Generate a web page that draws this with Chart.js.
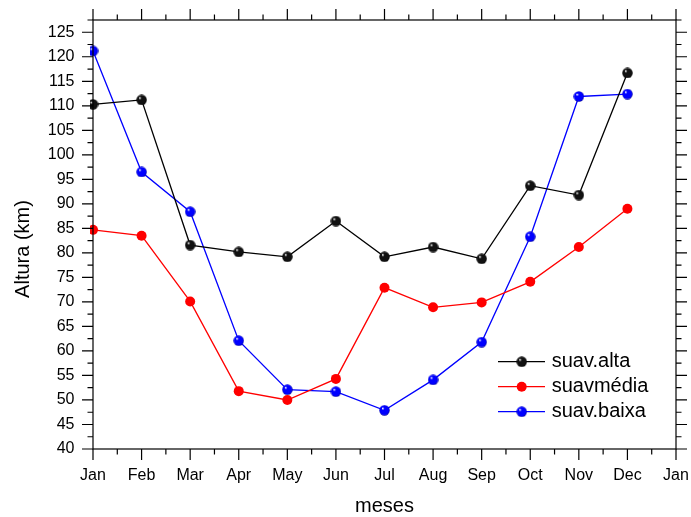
<!DOCTYPE html>
<html>
<head>
<meta charset="utf-8">
<script src="https://cdn.jsdelivr.net/npm/chart.js@4/dist/chart.umd.min.js"></script>
<style>
  html, body { margin: 0; padding: 0; background: #fff; }
  #wrap { width: 691px; height: 517px; }
</style>
</head>
<body>
<div id="wrap"><canvas id="c" width="691" height="517"></canvas></div>
<script>
// Monthly smoothed heights (km)
const months = ['Jan', 'Feb', 'Mar', 'Apr', 'May', 'Jun', 'Jul', 'Aug', 'Sep', 'Oct', 'Nov', 'Dec', 'Jan'];
const suavAlta  = [110.3, 111.2, 81.6, 80.2, 79.2, 86.5, 79.2, 81.2, 78.8, 93.7, 91.8, 116.7];
const suavMedia = [84.7, 83.5, 70.1, 51.8, 50.0, 54.3, 72.9, 68.9, 69.9, 74.1, 81.2, 89.0];
const suavBaixa = [121.2, 96.5, 88.4, 62.1, 52.1, 51.7, 47.9, 54.1, 61.8, 83.3, 111.9, 112.4];
const seriesNames = ['suav.alta', 'suavmédia', 'suav.baixa'];
const yTicks = [40, 45, 50, 55, 60, 65, 70, 75, 80, 85, 90, 95, 100, 105, 110, 115, 120, 125];
const yMin = 40, yMax = 127.5;
const xTitle = 'meses';
const yTitle = 'Altura (km)';

const FONT = '"Liberation Sans", Arial, Helvetica, sans-serif';

// Shaded sphere marker
function sphere(color, dark, size) {
  const c = document.createElement('canvas');
  c.width = size; c.height = size;
  const g = c.getContext('2d');
  const r = size / 2;
  const grad = g.createRadialGradient(r - r * 0.35, r - r * 0.4, r * 0.05, r, r, r);
  grad.addColorStop(0, '#ffffff');
  grad.addColorStop(0.25, color);
  grad.addColorStop(0.8, color);
  grad.addColorStop(1, dark);
  g.fillStyle = grad;
  g.beginPath();
  g.arc(r, r, r - 0.3, 0, Math.PI * 2);
  g.fill();
  return c;
}
const blackBall = sphere('#111111', '#000000', 11);
const blueBall = sphere('#0000ff', '#00008a', 11);

const series = [
  { label: seriesNames[0], data: suavAlta,  color: '#000000', marker: blackBall },
  { label: seriesNames[1], data: suavMedia, color: '#ff0000', marker: 'circle' },
  { label: seriesNames[2], data: suavBaixa, color: '#0000ff', marker: blueBall }
];

// Frame, outward ticks on all four sides, axis titles and legend
const framePlugin = {
  id: 'frame',
  afterDraw(chart) {
    const { ctx, chartArea: a, scales } = chart;
    const xs = scales.x, ys = scales.y;
    ctx.save();
    ctx.strokeStyle = '#000';
    ctx.lineWidth = 1.2;
    ctx.strokeRect(a.left, a.top, a.right - a.left, a.bottom - a.top);

    const MAJ = 11, MIN = 5.5;
    ctx.beginPath();
    // x ticks (months and half months)
    for (let i = 0; i < months.length; i++) {
      const px = xs.getPixelForValue(i);
      ctx.moveTo(px, a.bottom); ctx.lineTo(px, a.bottom + MAJ);
      ctx.moveTo(px, a.top); ctx.lineTo(px, a.top - MAJ);
      if (i < months.length - 1) {
        const hx = (px + xs.getPixelForValue(i + 1)) / 2;
        ctx.moveTo(hx, a.bottom); ctx.lineTo(hx, a.bottom + MIN);
        ctx.moveTo(hx, a.top); ctx.lineTo(hx, a.top - MIN);
      }
    }
    // y ticks (every 5, minor every 2.5)
    for (const v of yTicks) {
      const py = ys.getPixelForValue(v);
      ctx.moveTo(a.left, py); ctx.lineTo(a.left - MAJ, py);
      ctx.moveTo(a.right, py); ctx.lineTo(a.right + MAJ, py);
      const hy = ys.getPixelForValue(v + 2.5);
      ctx.moveTo(a.left, hy); ctx.lineTo(a.left - MIN, hy);
      ctx.moveTo(a.right, hy); ctx.lineTo(a.right + MIN, hy);
    }
    ctx.stroke();

    // axis titles
    ctx.fillStyle = '#000';
    ctx.font = '20px ' + FONT;
    ctx.textAlign = 'center';
    ctx.textBaseline = 'middle';
    ctx.fillText(xTitle, (a.left + a.right) / 2, 506.5);
    ctx.save();
    ctx.translate(23.8, (a.top + a.bottom) / 2 + 14.5);
    ctx.rotate(-Math.PI / 2);
    ctx.fillText(yTitle, 0, 0);
    ctx.restore();

    // legend, lower right inside the plot
    ctx.textAlign = 'left';
    chart.data.datasets.forEach((ds, i) => {
      const y = a.bottom - 87.3 + i * 25;
      const x0 = a.right - 178;
      ctx.strokeStyle = ds.borderColor;
      ctx.lineWidth = 1.3;
      ctx.beginPath();
      ctx.moveTo(x0, y); ctx.lineTo(x0 + 47, y);
      ctx.stroke();
      const cx = x0 + 23.7;
      if (ds.pointStyle === 'circle') {
        ctx.fillStyle = ds.pointBackgroundColor;
        ctx.beginPath();
        ctx.arc(cx, y, 5, 0, Math.PI * 2);
        ctx.fill();
      } else {
        ctx.drawImage(ds.pointStyle, cx - 5.5, y - 5.5);
      }
      ctx.fillStyle = '#000';
      ctx.fillText(ds.label, a.right - 124.3, y);
    });
    ctx.restore();
  }
};

new Chart(document.getElementById('c'), {
  type: 'line',
  data: {
    labels: months,
    datasets: series.map(s => ({
      label: s.label,
      data: s.data,
      borderColor: s.color,
      borderWidth: 1.3,
      pointStyle: s.marker,
      pointRadius: 5,
      pointBackgroundColor: s.color,
      pointBorderWidth: 0,
      tension: 0,
      clip: 3
    }))
  },
  options: {
    responsive: false,
    devicePixelRatio: 1,
    animation: false,
    events: [],
    layout: { padding: { top: 20, right: 15, left: 0, bottom: 0 } },
    plugins: { legend: { display: false }, tooltip: { enabled: false } },
    scales: {
      x: {
        type: 'category',
        offset: false,
        grid: { display: false, drawTicks: false },
        border: { display: false },
        ticks: { color: '#000', font: { family: FONT, size: 16 }, padding: 17, maxRotation: 0, autoSkip: false },
        afterFit: s => { s.height = 68; s.paddingLeft = 0; s.paddingRight = 0; }
      },
      y: {
        type: 'linear',
        min: yMin,
        max: yMax,
        grid: { display: false, drawTicks: false },
        border: { display: false },
        ticks: { color: '#000', font: { family: FONT, size: 16 }, padding: 18.5 },
        afterBuildTicks: s => { s.ticks = yTicks.map(v => ({ value: v })); },
        afterFit: s => { s.width = 93; s.paddingTop = 0; s.paddingBottom = 0; }
      }
    }
  },
  plugins: [framePlugin]
});
</script>
</body>
</html>
